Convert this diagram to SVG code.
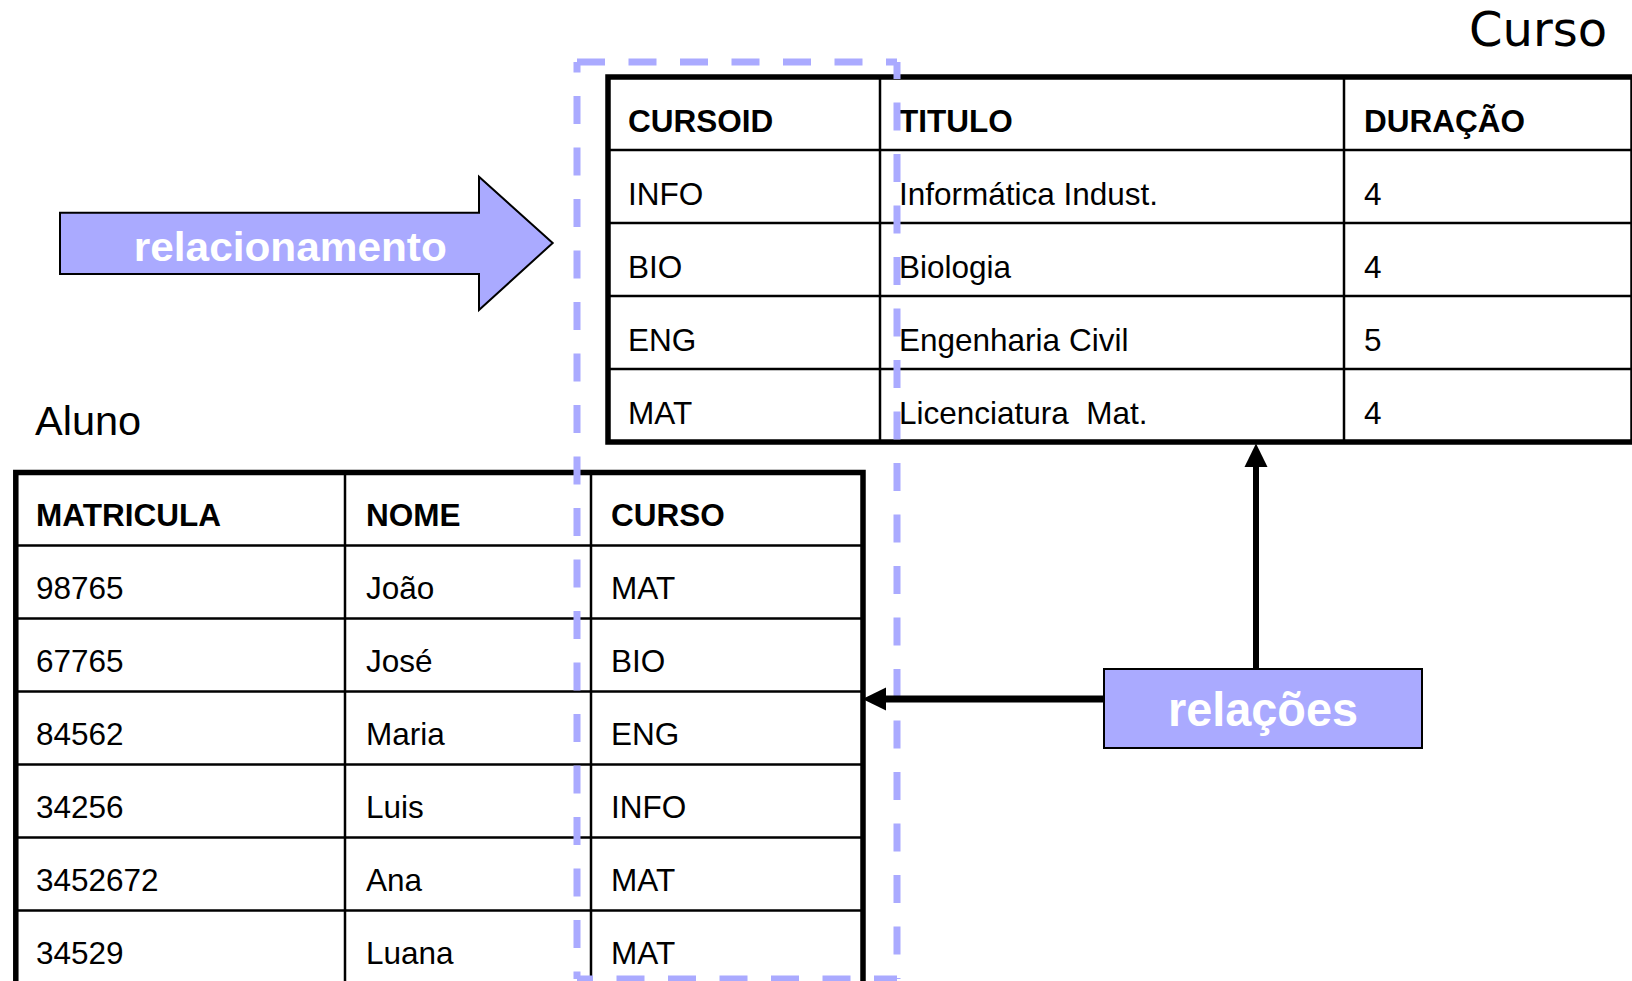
<svg xmlns="http://www.w3.org/2000/svg" width="1632" height="981" viewBox="0 0 1632 981">
  <style>
    .cell { font-family: "Liberation Sans", Arial, sans-serif; font-size: 31.5px; fill: #000; }
    .hdr { font-weight: bold; }
    .outer { fill: #fff; stroke: #000; stroke-width: 5.5; }
    .grid { stroke: #000; stroke-width: 2.5; fill: none; }
    .shape { fill: #aaaaff; stroke: #000; stroke-width: 2; }
    .label { font-family: "Liberation Sans", Arial, sans-serif; font-weight: bold; fill: #fff; }
    .dash { stroke: #aaaaff; stroke-width: 7; fill: none; stroke-dasharray: 28 23.5; }
    .conn { stroke: #000; fill: none; }
  </style>
  <defs>
    <marker id="head" markerUnits="userSpaceOnUse" markerWidth="26" markerHeight="26" viewBox="0 -13 26 26" refX="0" refY="0" orient="auto" overflow="visible">
      <path d="M0,-11.5 L23.5,0 L0,11.5 Z" fill="#000"/>
    </marker>
  </defs>

  <rect width="1632" height="981" fill="#fff"/>

  <g id="curso-title">
    <text x="1607" y="46" text-anchor="end" style="font-family:'DejaVu Sans',Verdana,sans-serif;font-size:48px" fill="#000">Curso</text>
  </g>

  <g id="curso-table">
    <rect class="outer" x="608" y="77" width="1025" height="365"/>
    <path class="grid" d="M608,150 H1633 M608,223 H1633 M608,296 H1633 M608,369 H1633 M880,77 V442 M1344,77 V442"/>
    <text class="cell hdr" x="628" y="131.5">CURSOID</text>
    <text class="cell hdr" x="899" y="131.5">TITULO</text>
    <text class="cell hdr" x="1364" y="131.5">DURAÇÃO</text>
    <text class="cell" x="628" y="204.5">INFO</text>
    <text class="cell" x="899" y="204.5">Informática Indust.</text>
    <text class="cell" x="1364" y="204.5">4</text>
    <text class="cell" x="628" y="277.5">BIO</text>
    <text class="cell" x="899" y="277.5">Biologia</text>
    <text class="cell" x="1364" y="277.5">4</text>
    <text class="cell" x="628" y="350.5">ENG</text>
    <text class="cell" x="899" y="350.5">Engenharia Civil</text>
    <text class="cell" x="1364" y="350.5">5</text>
    <text class="cell" x="628" y="423.5">MAT</text>
    <text class="cell" x="899" y="423.5" xml:space="preserve" style="white-space:pre">Licenciatura  Mat.</text>
    <text class="cell" x="1364" y="423.5">4</text>
  </g>

  <g id="aluno-title">
    <text x="35" y="435" style="font-family:'Liberation Sans',Arial,sans-serif;font-size:41.5px" fill="#000">Aluno</text>
  </g>

  <g id="aluno-table">
    <rect class="outer" x="15.8" y="472.5" width="847.2" height="515"/>
    <path class="grid" d="M15.8,545.5 H863 M15.8,618.5 H863 M15.8,691.5 H863 M15.8,764.5 H863 M15.8,837.5 H863 M15.8,910.5 H863 M345,472.5 V990 M591,472.5 V990"/>
    <text class="cell hdr" x="36" y="526">MATRICULA</text>
    <text class="cell hdr" x="366" y="526">NOME</text>
    <text class="cell hdr" x="611" y="526">CURSO</text>
    <text class="cell" x="36" y="599">98765</text>
    <text class="cell" x="366" y="599">João</text>
    <text class="cell" x="611" y="599">MAT</text>
    <text class="cell" x="36" y="672">67765</text>
    <text class="cell" x="366" y="672">José</text>
    <text class="cell" x="611" y="672">BIO</text>
    <text class="cell" x="36" y="745">84562</text>
    <text class="cell" x="366" y="745">Maria</text>
    <text class="cell" x="611" y="745">ENG</text>
    <text class="cell" x="36" y="818">34256</text>
    <text class="cell" x="366" y="818">Luis</text>
    <text class="cell" x="611" y="818">INFO</text>
    <text class="cell" x="36" y="891">3452672</text>
    <text class="cell" x="366" y="891">Ana</text>
    <text class="cell" x="611" y="891">MAT</text>
    <text class="cell" x="36" y="964">34529</text>
    <text class="cell" x="366" y="964">Luana</text>
    <text class="cell" x="611" y="964">MAT</text>
  </g>

  <g id="relacionamento-arrow">
    <polygon class="shape" points="60,212.7 479,212.7 479,176.7 552.7,243 479,310 479,274 60,274"/>
    <text class="label" x="290.3" y="260.7" text-anchor="middle" font-size="41" textLength="313" lengthAdjust="spacingAndGlyphs">relacionamento</text>
  </g>

  <g id="highlight">
    <path class="dash" d="M577,62 H897"/>
    <path class="dash" d="M897,62 V979" stroke-dashoffset="11"/>
    <path class="dash" d="M577,979 H897" stroke-dashoffset="12"/>
    <path class="dash" d="M577,62 V979" stroke-dashoffset="17.5"/>
  </g>

  <g id="connectors">
    <line class="conn" x1="1256" y1="669" x2="1256" y2="467" stroke-width="6" marker-end="url(#head)"/>
    <line class="conn" x1="1104" y1="699" x2="886" y2="699" stroke-width="7" marker-end="url(#head)"/>
  </g>

  <g id="relacoes-box">
    <rect class="shape" x="1104" y="669" width="318" height="79"/>
    <text class="label" x="1263" y="726" text-anchor="middle" font-size="48" textLength="190" lengthAdjust="spacingAndGlyphs">relações</text>
  </g>
</svg>
